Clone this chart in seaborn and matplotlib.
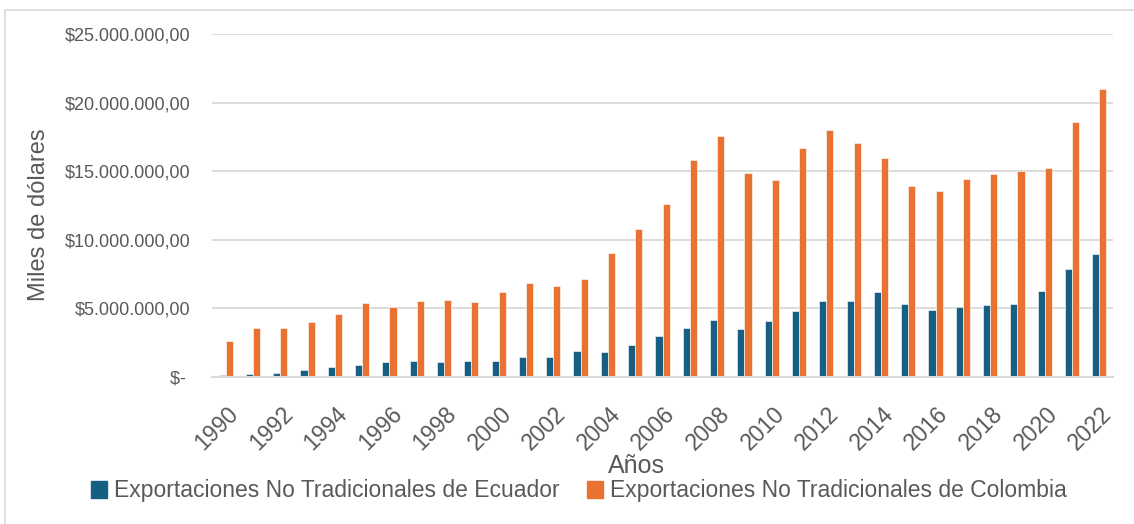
import pandas as pd
import matplotlib
matplotlib.use("Agg")
import matplotlib.pyplot as plt
import seaborn as sns
from matplotlib.ticker import FuncFormatter
from matplotlib.patches import Rectangle
from matplotlib.transforms import ScaledTranslation

years = list(range(1990, 2023))

# miles de dólares
ecuador = [170000, 220000, 310000, 510000, 700000, 870000, 1090000, 1140000, 1090000,
           1170000, 1190000, 1430000, 1480000, 1890000, 1850000, 2300000, 2960000,
           3550000, 4130000, 3470000, 4080000, 4840000, 5560000, 5520000, 6170000,
           5350000, 4880000, 5080000, 5220000, 5300000, 6270000, 7870000, 8990000]
colombia = [2650000, 3550000, 3570000, 3990000, 4570000, 5390000, 5100000, 5540000,
            5610000, 5490000, 6220000, 6850000, 6650000, 7120000, 9060000, 10810000,
            12600000, 15800000, 17600000, 14870000, 14330000, 16670000, 17980000,
            17080000, 15940000, 13920000, 13580000, 14430000, 14770000, 15040000,
            15230000, 18590000, 21010000]

serie_ec = "Exportaciones No Tradicionales de Ecuador"
serie_co = "Exportaciones No Tradicionales de Colombia"

df = pd.DataFrame({
    "Año": [str(y) for y in years] * 2,
    "valor": ecuador + colombia,
    "serie": [serie_ec] * len(years) + [serie_co] * len(years),
})

sns.set_style("white")
plt.rcParams["font.family"] = ["Liberation Sans", "DejaVu Sans"]
gris = "#595959"
azul, naranja = "#156082", "#E97132"

fig = plt.figure(figsize=(11.34, 5.24), dpi=100)
ax = fig.add_axes([212 / 1134, 1 - 377 / 524, 901 / 1134, 343 / 524])

sns.barplot(data=df, x="Año", y="valor", hue="serie", ax=ax,
            palette=[azul, naranja], saturation=1, width=0.52,
            edgecolor="white", linewidth=0.4, legend=False)

ax.set_ylim(0, 25000000)
ax.set_yticks(range(0, 25000001, 5000000))


def pesos(v, pos):
    if v == 0:
        return "$- "
    s = f"{v:,.2f}".replace(",", "X").replace(".", ",").replace("X", ".")
    return "$" + s


ax.yaxis.set_major_formatter(FuncFormatter(pesos))
ax.tick_params(axis="y", labelsize=13, labelcolor=gris, length=0, pad=15.5)
ax.grid(axis="y", color="#D9D9D9", linewidth=1.3)
ax.set_axisbelow(True)
for s in ["top", "right", "left"]:
    ax.spines[s].set_visible(False)
ax.spines["bottom"].set_color("#D9D9D9")
ax.spines["bottom"].set_linewidth(1.5)

ax.set_xticks(range(0, len(years), 2))
ax.set_xticklabels([str(y) for y in years[::2]], rotation=45, ha="right",
                   va="top", rotation_mode="anchor")
ax.tick_params(axis="x", labelsize=16.5, labelcolor=gris, length=0, pad=18)
desplaza = ScaledTranslation(1 / 100, 0, fig.dpi_scale_trans)
for lab in ax.get_xticklabels():
    lab.set_transform(lab.get_transform() + desplaza)
ax.set_xlim(-0.5, len(years) - 0.5)

ax.set_xlabel("Años", fontsize=18, color=gris)
ax.xaxis.set_label_coords((636 - 212) / 901, (377 - 454) / 343)
ax.set_ylabel("Miles de dólares", fontsize=17, color=gris)
ax.yaxis.set_label_coords((50 - 212) / 901, (377 - 215) / 343)

handles = [Rectangle((0, 0), 1, 1, color=azul),
           Rectangle((0, 0), 1, 1, color=naranja)]
fig.legend(handles, [serie_ec, serie_co], loc="center", ncol=2,
           bbox_to_anchor=(579 / 1134, 1 - 491 / 524), frameon=False,
           fontsize=16.5, labelcolor=gris, handlelength=0.7, handleheight=0.7,
           handletextpad=0.3, columnspacing=1.2)

fig.patches.append(Rectangle((5 / 1134, -0.1), 1.2, 1 - 10 / 524 + 0.1,
                             transform=fig.transFigure, fill=False,
                             edgecolor="#D9D9D9", linewidth=1.2))

fig.savefig("out.png", dpi=100, facecolor="white")
